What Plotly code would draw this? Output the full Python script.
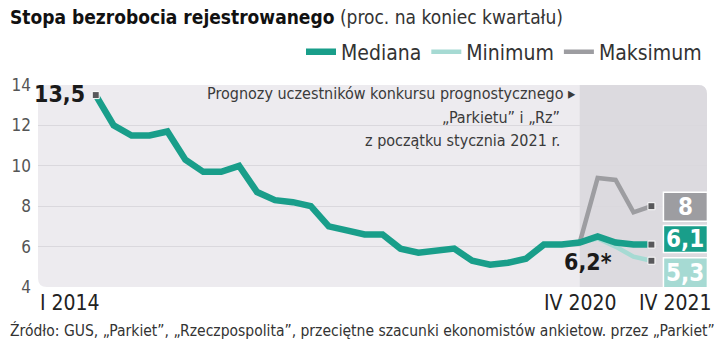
import plotly.graph_objects as go

# ---------------- data ----------------
quarters = [
    "I 2014", "II 2014", "III 2014", "IV 2014",
    "I 2015", "II 2015", "III 2015", "IV 2015",
    "I 2016", "II 2016", "III 2016", "IV 2016",
    "I 2017", "II 2017", "III 2017", "IV 2017",
    "I 2018", "II 2018", "III 2018", "IV 2018",
    "I 2019", "II 2019", "III 2019", "IV 2019",
    "I 2020", "II 2020", "III 2020", "IV 2020",
    "I 2021", "II 2021", "III 2021", "IV 2021",
]
median = [13.5, 12.0, 11.5, 11.5,
          11.7, 10.3, 9.7, 9.7,
          10.0, 8.7, 8.3, 8.2,
          8.0, 7.0, 6.8, 6.6,
          6.6, 5.9, 5.7, 5.8,
          5.9, 5.3, 5.1, 5.2,
          5.4, 6.1, 6.1, 6.2,
          6.5, 6.2, 6.1, 6.1]
forecast_quarters = ["IV 2020", "I 2021", "II 2021", "III 2021", "IV 2021"]
minimum = [6.2, 6.4, 6.0, 5.5, 5.3]
maximum = [6.2, 9.4, 9.3, 7.7, 8.0]
y_ticks = [4, 6, 8, 10, 12, 14]
x_labels = ["I 2014", "IV 2020", "IV 2021"]

# ---------------- style ----------------
C_MED = "#199e8a"
C_MIN = "#a6dad3"
C_MAX = "#9d9da1"
C_BG = "#edebef"
C_FC = "#dcdadf"
C_GRID = "#dad8dd"
C_MARK = "#58585b"
FONT = "Liberation Sans Narrow, DejaVu Sans Condensed, Roboto, sans-serif"

X0, X1 = -3.22, 34.1

fig = go.Figure()
fig.add_trace(go.Scatter(x=forecast_quarters, y=maximum, mode="lines", name="Maksimum",
                         line=dict(color=C_MAX, width=4.5)))
fig.add_trace(go.Scatter(x=forecast_quarters, y=minimum, mode="lines", name="Minimum",
                         line=dict(color=C_MIN, width=4.5)))
fig.add_trace(go.Scatter(x=quarters, y=median, mode="lines", name="Mediana",
                         line=dict(color=C_MED, width=6.5)))
# end-point markers
fig.add_trace(go.Scatter(
    x=[quarters[0], forecast_quarters[-1], forecast_quarters[-1], forecast_quarters[-1]],
    y=[median[0], maximum[-1], median[-1], minimum[-1]],
    mode="markers", showlegend=False,
    marker=dict(symbol="square", size=7, color=C_MARK, line=dict(color="white", width=1))))

def rpath(x0, y0, x1, y1, rx, ry, tl=True, tr=True, bl=True, br=True):
    p = f"M{x0 + (rx if tl else 0)},{y1} "
    p += f"L{x1 - (rx if tr else 0)},{y1} "
    if tr:
        p += f"Q{x1},{y1} {x1},{y1 - ry} "
    p += f"L{x1},{y0 + (ry if br else 0)} "
    if br:
        p += f"Q{x1},{y0} {x1 - rx},{y0} "
    p += f"L{x0 + (rx if bl else 0)},{y0} "
    if bl:
        p += f"Q{x0},{y0} {x0},{y0 + ry} "
    p += f"L{x0},{y1 - (ry if tl else 0)} "
    if tl:
        p += f"Q{x0},{y1} {x0 + rx},{y1} "
    return p + "Z"

W, H = 672.0, 202.0
r = 9
# plot background
fig.add_shape(type="path", xref="paper", yref="paper", layer="below",
              path=rpath(0, 0, 1, 1, r / W, r / H),
              fillcolor=C_BG, line=dict(width=0))
# forecast region
fx = (quarters.index("IV 2020") - X0) / (X1 - X0)
fig.add_shape(type="path", xref="paper", yref="paper", layer="between",
              path=rpath(fx, 0, 1, 1, r / W, r / H, tl=False, bl=False),
              fillcolor=C_FC, line=dict(width=0))

# value boxes at the end
boxes = [
    (maximum[-1], C_MAX, -15, 14),
    (median[-1], C_MED, -8, 19),
    (minimum[-1], C_MIN, -27, 3),
]
for val, col, b0, b1 in boxes:
    fig.add_shape(type="rect", xref="x", yref="y", xsizemode="pixel", ysizemode="pixel",
                  xanchor=forecast_quarters[-1], yanchor=val,
                  x0=12, x1=56, y0=b0, y1=b1,
                  fillcolor=col, line=dict(color="white", width=1.5), layer="above")
    fig.add_annotation(x=forecast_quarters[-1], y=val, xref="x", yref="y",
                       text=f"<b>{val:g}</b>".replace(".", ","), showarrow=False,
                       xshift=34, yshift=(b0 + b1) / 2,
                       font=dict(family=FONT, size=24, color="white"))

# value call-outs
fig.add_annotation(x=quarters[0], y=median[0], text="<b>13,5</b>", showarrow=False,
                   xanchor="right", xshift=-9, yshift=1,
                   font=dict(family=FONT, size=23, color="#1a1a1a"))
fig.add_annotation(x="IV 2020", y=median[quarters.index("IV 2020")], text="<b>6,2*</b>",
                   showarrow=False, xshift=8, yshift=-19,
                   font=dict(family=FONT, size=23, color="#1a1a1a"))

# forecast note
fig.add_annotation(xref="paper", yref="paper", x=(577 - 35) / W, y=(287 - 93) / H,
                   xanchor="right", yanchor="middle", showarrow=False,
                   text="Prognozy uczestników konkursu prognostycznego \u25B8",
                   font=dict(family=FONT, size=16, color="#3a3a3a"))
fig.add_annotation(xref="paper", yref="paper", x=(561 - 35) / W, y=(287 - 117) / H,
                   xanchor="right", yanchor="middle", showarrow=False,
                   text="\u201EParkietu\u201D i \u201ERz\u201D",
                   font=dict(family=FONT, size=16, color="#3a3a3a"))
fig.add_annotation(xref="paper", yref="paper", x=(561 - 35) / W, y=(287 - 140) / H,
                   xanchor="right", yanchor="middle", showarrow=False,
                   text="z początku stycznia 2021 r.",
                   font=dict(family=FONT, size=16, color="#3a3a3a"))

# x labels
for lab, shift in zip(x_labels, [-26, 1, 24]):
    fig.add_annotation(x=lab, y=0, xref="x", yref="paper", yanchor="top", yshift=-2,
                       xshift=shift, text=lab, showarrow=False,
                       font=dict(family=FONT, size=21, color="#222"))

# title
fig.add_annotation(xref="paper", yref="paper", x=-30 / W, y=(287 - 17) / H,
                   xanchor="left", yanchor="middle", showarrow=False,
                   text="<b>Stopa bezrobocia rejestrowanego</b> "
                        "<span style='color:#333'>(proc. na koniec kwartału)</span>",
                   font=dict(family=FONT, size=19, color="#111"))
# footnote
fig.add_annotation(xref="paper", yref="paper", x=-30 / W, y=(287 - 330) / H,
                   xanchor="left", yanchor="middle", showarrow=False,
                   text="Źródło: GUS, \u201EParkiet\u201D, \u201ERzeczpospolita\u201D, przeciętne szacunki "
                        "ekonomistów ankietow. przez \u201EParkiet\u201D",
                   font=dict(family=FONT, size=15.5, color="#333"))

fig.update_layout(
    width=720, height=355, autosize=False,
    margin=dict(l=35, r=13, t=85, b=68),
    paper_bgcolor="white", plot_bgcolor="rgba(0,0,0,0)",
    font=dict(family=FONT, color="#444"),
    showlegend=True,
    legend=dict(orientation="h", x=1, xanchor="right", y=1 + 33 / H, yanchor="middle",
                traceorder="reversed", font=dict(family=FONT, size=21, color="#333"),
                bgcolor="rgba(0,0,0,0)", itemwidth=30),
    xaxis=dict(type="category", categoryorder="array", categoryarray=quarters,
               range=[X0, X1], showgrid=False, zeroline=False, showticklabels=False,
               showline=False, ticks=""),
    yaxis=dict(range=[4, 14], tickvals=y_ticks, showgrid=True, gridcolor=C_GRID,
               gridwidth=1, zeroline=False, showline=False, ticks="",
               tickfont=dict(family=FONT, size=17, color="#555"), ticklabelstandoff=6),
)
fig.write_html("out.html", config={"displayModeBar": False},
               post_script="document.body.style.margin='0';")
